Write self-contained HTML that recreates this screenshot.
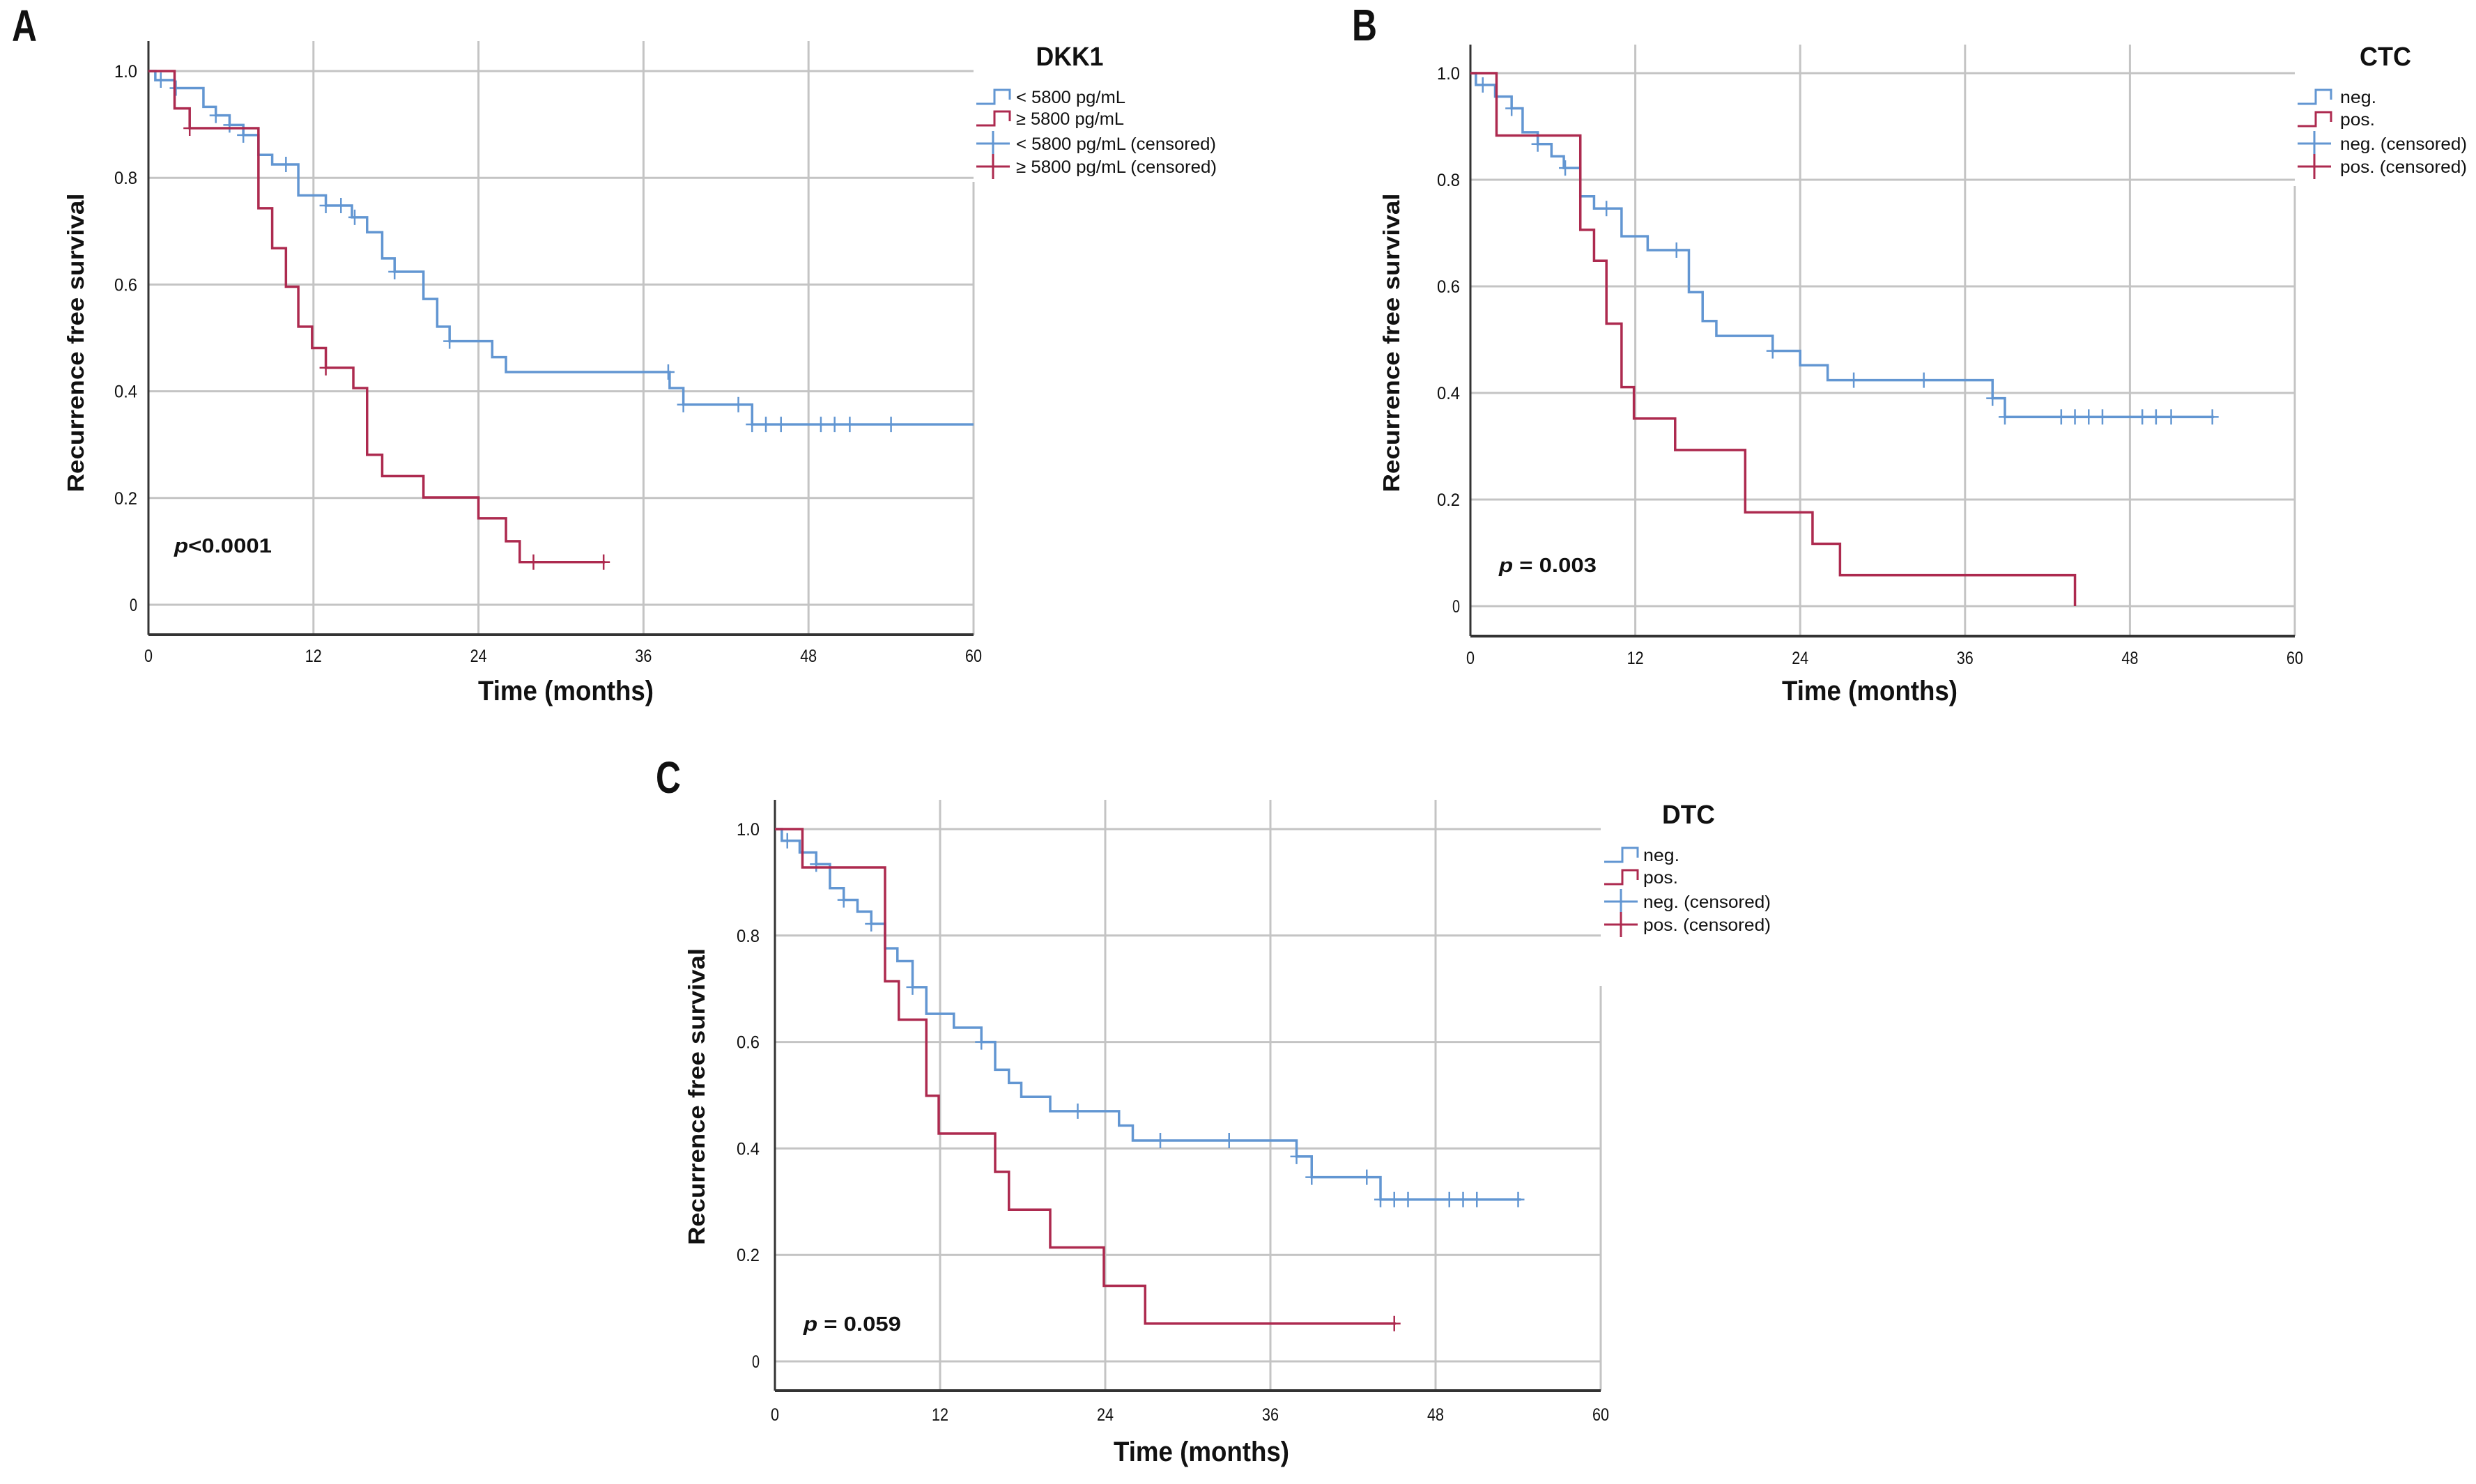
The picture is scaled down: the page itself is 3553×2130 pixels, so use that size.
<!DOCTYPE html>
<html><head><meta charset="utf-8"><style>
html,body{margin:0;padding:0;background:#fff;}
svg{display:block;}
text{font-family:"Liberation Sans Narrow","Liberation Sans",sans-serif;fill:#111;}
</style></head><body>
<svg id="fig" width="3553" height="2130" viewBox="0 0 3553 2130" xmlns="http://www.w3.org/2000/svg"></svg>
<script>
// ---------- DATA ----------
const xTicks=[0,12,24,36,48,60];
const yTicks=[0,0.2,0.4,0.6,0.8,1.0];
const yTickLabels=["0","0.2","0.4","0.6","0.8","1.0"];
// Panel A (DKK1)
const aLowTimes=[0.5,1.9,4.0,4.9,5.9,6.9,8.0,9.0,10.9,12.9,14.8,15.9,17.0,17.9,20.0,21.0,21.9,25.0,26.0,37.9,38.9,43.9];
const aLowSurv=[0.983,0.968,0.933,0.917,0.899,0.880,0.843,0.825,0.767,0.748,0.726,0.698,0.649,0.624,0.573,0.521,0.494,0.464,0.436,0.406,0.375,0.338];
const aLowEnd=60;
const aLowCens=[0.9,2.0,4.9,5.9,6.9,10.0,12.9,14.0,15.0,17.9,21.9,37.8,38.9,42.9,43.9,44.9,46.0,48.9,49.9,51.0,54.0];
const aHighTimes=[1.9,3.0,8.0,9.0,10.0,10.9,11.9,12.9,14.9,15.9,17.0,20.0,24.0,26.0,27.0];
const aHighSurv=[0.930,0.893,0.743,0.668,0.596,0.521,0.481,0.444,0.406,0.281,0.241,0.201,0.162,0.119,0.080];
const aHighEnd=33.2;
const aHighCens=[3.0,12.9,28.0,33.1];
// Panel B (CTC)
const bNegTimes=[0.4,1.8,3.0,3.8,4.9,5.9,6.8,8.0,9.0,11.0,12.9,15.9,16.9,17.9,22.0,24.0,26.0,38.0,38.9];
const bNegSurv=[0.978,0.956,0.934,0.889,0.867,0.844,0.822,0.769,0.746,0.694,0.668,0.589,0.535,0.507,0.479,0.452,0.424,0.390,0.355];
const bNegEnd=54.1;
const bNegCens=[0.9,3.0,4.9,6.9,9.9,15.0,22.0,27.9,33.0,38.0,38.9,43.0,44.0,45.0,46.0,48.9,49.9,51.0,54.0];
const bPosTimes=[1.9,8.0,9.0,9.9,11.0,11.9,14.9,20.0,24.9,26.9,44.0];
const bPosSurv=[0.883,0.706,0.648,0.530,0.411,0.352,0.293,0.176,0.117,0.058,0.0];
const bPosEnd=44.0;
const bPosCens=[];
// Panel C (DTC)
const cNegTimes=[0.5,1.8,3.0,4.0,5.0,6.0,7.0,8.0,8.9,10.0,11.0,13.0,15.0,16.0,17.0,17.9,20.0,25.0,26.0,37.9,39.0,44.0];
const cNegSurv=[0.978,0.956,0.934,0.889,0.867,0.845,0.822,0.776,0.752,0.703,0.653,0.627,0.600,0.548,0.523,0.497,0.470,0.443,0.415,0.385,0.346,0.304];
const cNegEnd=54.2;
const cNegCens=[0.9,3.0,5.0,7.0,10.0,15.0,22.0,28.0,33.0,37.9,39.0,43.0,44.0,45.0,46.0,49.0,50.0,51.0,54.0];
const cPosTimes=[2.0,8.0,9.0,11.0,11.9,16.0,17.0,20.0,23.9,26.9];
const cPosSurv=[0.928,0.714,0.642,0.499,0.428,0.356,0.285,0.214,0.142,0.071];
const cPosEnd=45.1;
const cPosCens=[45.0];

const BLUE="#6296d2", RED="#ad2a4f", GRID="#c4c4c4";
const NS="http://www.w3.org/2000/svg";
const svg=document.getElementById('fig');
function mk(tag,attrs,parent){const e=document.createElementNS(NS,tag);for(const k in attrs)e.setAttribute(k,attrs[k]);(parent||svg).appendChild(e);return e;}
function txt(s,attrs,parent){const e=mk('text',attrs,parent);e.textContent=s;return e;}

function survAt(times,surv,t){let s=1;for(let i=0;i<times.length;i++){if(times[i]<=t)s=surv[i];}return s;}

function panel(P){
  const g=mk('g',{});
  
  
  const X=t=>P.x0+(P.x1-P.x0)*t/60;
  const Y=v=>P.y0+(P.y1-P.y0)*v;
  yTicks.forEach((v,i)=>{
    const l=mk('line',{x1:P.x0,x2:P.x1,y1:Y(v),y2:Y(v),stroke:GRID,'stroke-width':3},g);
    
    
    const lab=yTickLabels[i];
    const t=txt(lab,{x:P.yLab,y:Y(v)+9,'text-anchor':'end','font-size':25,textLength:lab.length*11,lengthAdjust:'spacingAndGlyphs'},g);
    
    
  });
  xTicks.forEach(m=>{
    if(m>0&&m<60){const l=mk('line',{x1:X(m),x2:X(m),y1:P.gTop,y2:P.axisY,stroke:GRID,'stroke-width':3},g);
      
      }
    const lab=String(m);
    const t=txt(lab,{x:X(m),y:P.tickY,'text-anchor':'middle','font-size':25,textLength:lab.length*12,lengthAdjust:'spacingAndGlyphs'},g);
    
    
  });
  const rb=mk('line',{x1:P.x1,x2:P.x1,y1:P.rTop,y2:P.axisY,stroke:GRID,'stroke-width':3},g);
  
  
  const ya=mk('line',{x1:P.x0,x2:P.x0,y1:P.gTop,y2:P.axisY,stroke:'#333','stroke-width':3},g);
  
  
  const xa=mk('line',{x1:P.x0,x2:P.x1,y1:P.axisY,y2:P.axisY,stroke:'#333','stroke-width':4},g);
  
  
  P.series.forEach(S=>{
    let d='M'+X(0)+','+Y(1);let s=1;
    S.times.forEach((t,i)=>{d+=' L'+X(t)+','+Y(s)+' L'+X(t)+','+Y(S.surv[i]);s=S.surv[i];});
    d+=' L'+X(S.end)+','+Y(s);
    const p=mk('path',{d:d,fill:'none',stroke:S.color,'stroke-width':3.5},g);
    
    
    S.cens.forEach(t=>{
      const v=survAt(S.times,S.surv,t);
      const c=mk('path',{d:'M'+(X(t)-9)+','+Y(v)+' h18 M'+X(t)+','+(Y(v)-11)+' v22',stroke:S.color,'stroke-width':2.5,fill:'none'},g);
      
      
    });
  });
  const L=txt(P.letter,{x:P.letterX,y:P.letterY,'font-size':64,'font-weight':'bold',textLength:36,lengthAdjust:'spacingAndGlyphs'},g);
  
  
  const yt=txt('Recurrence free survival',{x:0,y:0,'font-size':33,'font-weight':'bold',textLength:P.yTitleLen,lengthAdjust:'spacingAndGlyphs','text-anchor':'middle',transform:'translate('+P.yTitleX+','+P.yTitleY+') rotate(-90)',style:'font-family:"Liberation Sans",sans-serif'},g);
  
  
  const xt=txt('Time (months)',{x:P.xTitleX,y:P.xTitleY,'font-size':40,'font-weight':'bold','text-anchor':'middle',textLength:252,lengthAdjust:'spacingAndGlyphs'},g);
  
  
  const pv=txt('',{x:P.pX,y:P.pY,'font-size':29,'font-weight':'bold',textLength:140,lengthAdjust:'spacingAndGlyphs'},g);
  
  
  const ts=document.createElementNS(NS,'tspan');ts.setAttribute('font-style','italic');ts.textContent='p';pv.appendChild(ts);
  pv.appendChild(document.createTextNode(P.pText));
  const lg=mk('g',{},g);
  
  
  const lt=txt(P.legTitle,{x:P.legTitleX,y:P.legYs[0]-33,'font-size':38,'font-weight':'bold','text-anchor':'middle',textLength:P.legTitleW,lengthAdjust:'spacingAndGlyphs'},lg);
  
  
  P.legItems.forEach((it,i)=>{
    const y=P.legYs[i+1], sx=P.symX;
    let d;
    if(it.kind==='step') d='M'+sx+','+(y+10)+' h26 v-20 h22 v14';
    else d='M'+sx+','+y+' h48 M'+(sx+24)+','+(y-18)+' v36';
    const sp=mk('path',{d:d,stroke:it.color,'stroke-width':3,fill:'none'},lg);
    
    
    const t=txt(it.label,{x:P.legTextX,y:y+9,'font-size':25,textLength:it.w,lengthAdjust:'spacingAndGlyphs'},lg);
    
    
  });
}

panel({id:'dkk1',letter:'A',letterX:17,letterY:59,x0:213,x1:1397,y1:102,y0:868,axisY:911,gTop:59,rTop:261,
  yLab:197,tickY:950,yTitleX:120,yTitleY:492,yTitleLen:429,xTitleX:812,xTitleY:1005,pX:250,pY:793,pText:'<0.0001',
  legTitle:'DKK1',legTitleW:97,legTitleX:1535,legYs:[127,139,170,206,239],symX:1401,legTextX:1458,
  legItems:[{kind:'step',color:BLUE,label:'< 5800 pg/mL',w:157},{kind:'step',color:RED,label:'≥ 5800 pg/mL',w:155},
    {kind:'cens',color:BLUE,label:'< 5800 pg/mL (censored)',w:287},{kind:'cens',color:RED,label:'≥ 5800 pg/mL (censored)',w:288}],
  series:[{name:'low-dkk1',color:BLUE,times:aLowTimes,surv:aLowSurv,end:aLowEnd,cens:aLowCens},
          {name:'high-dkk1',color:RED,times:aHighTimes,surv:aHighSurv,end:aHighEnd,cens:aHighCens}]});
panel({id:'ctc',letter:'B',letterX:1940,letterY:58,x0:2110,x1:3293,y1:105,y0:870,axisY:913,gTop:64,rTop:267,
  yLab:2095,tickY:953,yTitleX:2008,yTitleY:492,yTitleLen:429,xTitleX:2683,xTitleY:1005,pX:2151,pY:821,pText:' = 0.003',
  legTitle:'CTC',legTitleW:74,legTitleX:3423,legYs:[127,139,171,206,239],symX:3297,legTextX:3358,
  legItems:[{kind:'step',color:BLUE,label:'neg.',w:52},{kind:'step',color:RED,label:'pos.',w:50},
    {kind:'cens',color:BLUE,label:'neg. (censored)',w:182},{kind:'cens',color:RED,label:'pos. (censored)',w:182}],
  series:[{name:'ctc-neg',color:BLUE,times:bNegTimes,surv:bNegSurv,end:bNegEnd,cens:bNegCens},
          {name:'ctc-pos',color:RED,times:bPosTimes,surv:bPosSurv,end:bPosEnd,cens:bPosCens}]});
panel({id:'dtc',letter:'C',letterX:941,letterY:1138,x0:1112,x1:2297,y1:1190,y0:1954,axisY:1996,gTop:1148,rTop:1415,
  yLab:1090,tickY:2039,yTitleX:1011,yTitleY:1574,yTitleLen:426,xTitleX:1724,xTitleY:2097,pX:1153,pY:1910,pText:' = 0.059',
  legTitle:'DTC',legTitleW:76,legTitleX:2423,legYs:[1215,1227,1259,1294,1327],symX:2302,legTextX:2358,
  legItems:[{kind:'step',color:BLUE,label:'neg.',w:52},{kind:'step',color:RED,label:'pos.',w:50},
    {kind:'cens',color:BLUE,label:'neg. (censored)',w:183},{kind:'cens',color:RED,label:'pos. (censored)',w:183}],
  series:[{name:'dtc-neg',color:BLUE,times:cNegTimes,surv:cNegSurv,end:cNegEnd,cens:cNegCens},
          {name:'dtc-pos',color:RED,times:cPosTimes,surv:cPosSurv,end:cPosEnd,cens:cPosCens}]});
</script>
</body></html>
